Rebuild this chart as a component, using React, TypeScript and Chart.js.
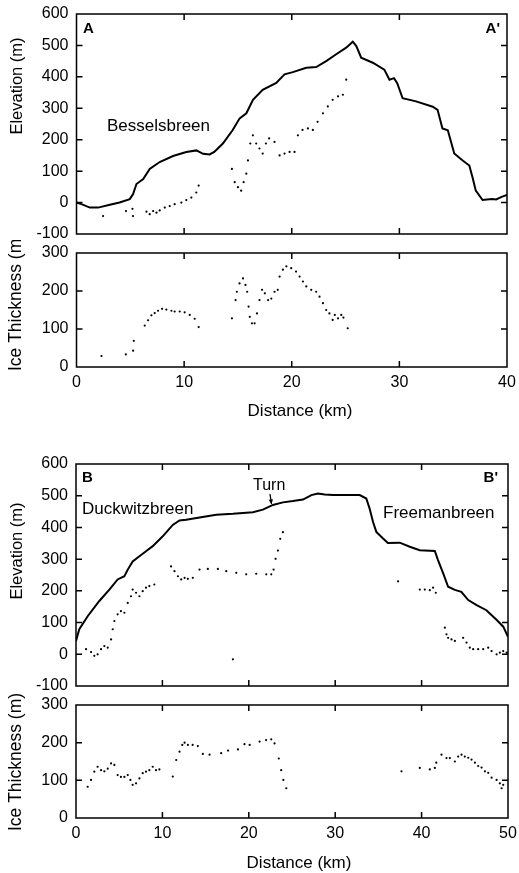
import React, { useEffect, useRef } from "react";
import { Chart, registerables } from "chart.js";

Chart.register(...registerables);

const FONT = "'Liberation Sans', Arial, sans-serif";

// ---------- Profile A-A' (Besselsbreen) ----------
const aSurfDist = [0, 0.46, 1.24, 2.0, 3.1, 4.0, 4.95, 5.26, 5.57, 6.2, 6.8, 7.73, 8.97, 10.2, 11.14, 11.76, 12.37, 12.8, 13.6, 14.5, 15.16, 15.78, 16.4, 17.3, 18.56, 19.33, 20.1, 21.35, 22.27, 23.2, 24.13, 25.06, 25.67, 26.0, 26.45, 27.53, 28.6, 29.08, 29.5, 29.8, 30.3, 31.55, 33.1, 33.55, 34.0, 34.5, 35.1, 35.88, 36.5, 36.8, 37.1, 37.73, 38.6, 39.0, 39.5, 40];
const aSurfElev = [0, -5, -16, -16, -7, 0, 11, 27, 59, 75, 107, 129, 148, 161, 166, 155, 153, 161, 188, 230, 268, 284, 327, 359, 381, 408, 415, 429, 431, 450, 472, 493, 512, 498, 461, 445, 423, 391, 396, 380, 332, 322, 305, 295, 236, 230, 156, 134, 118, 80, 38, 8, 11, 10, 18, 24];

const aBedDist = [2.47, 4.6, 5.2, 5.25, 6.5, 6.8, 7.12, 7.43, 7.73, 8.2, 8.66, 9.12, 9.74, 10.2, 10.67, 11.13, 11.35, 14.44, 14.7, 15.0, 15.3, 15.53, 15.78, 15.93, 16.15, 16.39, 16.7, 17.0, 17.3, 17.6, 17.9, 18.4, 18.87, 19.33, 19.8, 20.26, 20.57, 21.0, 21.5, 21.96, 22.4, 22.9, 23.35, 23.8, 24.3, 24.75, 25.06];
const aBedElev = [-43, -27, -20, -43, -29, -37, -27, -32, -25, -16, -11, -5, 0, 8, 16, 32, 54, 107, 65, 49, 38, 65, 92, 134, 188, 214, 188, 172, 156, 188, 204, 193, 150, 156, 161, 161, 214, 231, 236, 231, 257, 284, 306, 327, 338, 343, 391];

const aThickDist = [2.32, 4.58, 5.26, 5.32, 6.34, 6.65, 6.96, 7.27, 7.58, 7.95, 8.35, 8.82, 9.12, 9.59, 10.05, 10.52, 10.98, 11.35, 14.44, 14.78, 14.9, 15.15, 15.47, 15.7, 15.86, 15.99, 16.1, 16.3, 16.55, 16.77, 17.0, 17.24, 17.5, 17.8, 18.1, 18.4, 18.7, 18.87, 19.18, 19.5, 19.95, 20.4, 20.73, 21.04, 21.35, 21.81, 22.27, 22.58, 22.9, 23.2, 23.5, 23.8, 24.0, 24.3, 24.6, 24.8, 25.2];
const aThick = [29, 33, 43, 69, 109, 123, 136, 142, 148, 153, 151, 148, 146, 146, 144, 137, 127, 105, 128, 176, 198, 220, 233, 216, 198, 159, 132, 115, 115, 141, 176, 203, 194, 176, 180, 198, 203, 238, 256, 265, 260, 251, 238, 225, 212, 203, 198, 185, 168, 150, 141, 124, 137, 128, 137, 130, 102];

// ---------- Profile B-B' (Duckwitzbreen / Freemanbreen) ----------
const bSurfDist = [0, 0.38, 1.35, 2.7, 3.86, 4.82, 5.6, 5.99, 6.56, 7.34, 8.1, 8.88, 10.04, 11.2, 11.98, 12.75, 14.3, 16.23, 18.16, 20.47, 21.63, 22.79, 23.95, 25.1, 26.27, 27.24, 28.0, 28.78, 29.74, 31.3, 32.84, 33.6, 33.99, 34.38, 34.76, 35.54, 36.1, 37.47, 38.63, 39.79, 41.53, 41.9, 42.5, 43.07, 43.85, 44.6, 45.4, 46.37, 47.5, 48.7, 49.45, 50];
const bSurfElev = [42, 79, 120, 168, 204, 236, 246, 267, 293, 309, 325, 341, 372, 408, 422, 424, 431, 440, 443, 448, 456, 471, 479, 483, 488, 502, 507, 504, 502, 502, 502, 491, 459, 417, 386, 365, 351, 352, 339, 328, 326, 297, 255, 213, 203, 197, 171, 155, 139, 108, 87, 55];

const bBedDist = [1.16, 1.74, 2.12, 2.5, 2.9, 3.28, 3.67, 4.06, 4.25, 4.44, 4.82, 5.2, 5.6, 5.99, 6.37, 6.56, 6.95, 7.34, 7.72, 8.1, 8.49, 9.07, 11.0, 11.4, 11.8, 12.18, 12.57, 12.95, 13.52, 14.3, 15.26, 16.42, 17.39, 18.16, 18.55, 19.7, 20.86, 22.02, 22.6, 22.87, 23.1, 23.37, 23.64, 23.95, 37.28, 39.79, 40.37, 40.95, 41.33, 41.64, 42.69, 42.88, 43.07, 43.46, 43.85, 44.81, 45.2, 45.58, 45.97, 46.55, 47.13, 47.71, 48.1, 48.68, 49.06, 49.45, 49.84];
const bBedElev = [16, 7, -5, 0, 16, 26, 21, 47, 79, 105, 126, 136, 131, 162, 183, 204, 194, 183, 199, 210, 215, 220, 277, 262, 246, 236, 241, 238, 241, 267, 269, 269, 262, -16, 257, 252, 254, 252, 252, 267, 301, 327, 364, 385, 230, 204, 204, 202, 210, 194, 84, 63, 52, 47, 42, 52, 37, 21, 16, 16, 16, 21, 10, 0, 5, 10, 5];

const bThickDist = [1.35, 1.74, 2.12, 2.5, 2.9, 3.28, 3.67, 4.06, 4.44, 4.82, 5.2, 5.6, 5.99, 6.3, 6.56, 6.95, 7.34, 7.72, 8.1, 8.49, 8.88, 9.26, 9.65, 11.2, 11.6, 11.98, 12.3, 12.57, 12.95, 13.5, 14.1, 14.68, 15.46, 16.8, 17.6, 18.74, 19.5, 20.1, 21.25, 22.0, 22.6, 22.98, 23.47, 23.75, 24.0, 24.34, 37.67, 39.79, 40.95, 41.53, 41.7, 42.3, 42.88, 43.27, 43.85, 44.23, 44.62, 45.0, 45.4, 45.78, 46.17, 46.55, 46.94, 47.33, 47.71, 48.1, 48.68, 49.06, 49.26, 49.45];
const bThick = [83, 101, 123, 136, 127, 124, 131, 145, 141, 114, 109, 109, 114, 101, 88, 92, 105, 119, 123, 127, 136, 127, 129, 110, 154, 176, 194, 200, 194, 194, 191, 170, 168, 172, 179, 182, 196, 194, 203, 207, 209, 198, 158, 127, 101, 79, 124, 133, 129, 133, 147, 168, 159, 159, 150, 163, 168, 163, 160, 155, 147, 138, 134, 124, 120, 107, 101, 92, 79, 88];

// ---------- axis settings ----------
const elevTicks = { min: -100, max: 600, step: 100 };
const thickTicks = { min: 0, max: 300, step: 100 };
const xA = { min: 0, max: 40, step: 10 };
const xB = { min: 0, max: 50, step: 10 };

const zip = (xs: number[], ys: number[]) => xs.map((x, i) => ({ x, y: ys[i] }));

type Txt = {
  text: string; x: number; y: number; size: number;
  bold?: boolean; align?: CanvasTextAlign; rotate?: boolean;
};
type Arrow = { x1: number; y1: number; x2: number; y2: number };

const framePlugin = {
  id: "frame",
  afterDraw(chart: any, _args: any, opts: any) {
    const { ctx, chartArea: a, scales } = chart;
    ctx.save();
    ctx.strokeStyle = "#000";
    ctx.lineWidth = 1.5;
    ctx.strokeRect(a.left, a.top, a.right - a.left, a.bottom - a.top);
    const tl = 6;
    const xs = scales.x;
    const ys = scales.y;
    ctx.beginPath();
    for (let v = xs.min + opts.xStep; v < xs.max - 1e-6; v += opts.xStep) {
      const p = xs.getPixelForValue(v);
      ctx.moveTo(p, a.top); ctx.lineTo(p, a.top + tl);
      ctx.moveTo(p, a.bottom); ctx.lineTo(p, a.bottom - tl);
    }
    for (let v = ys.min + opts.yStep; v < ys.max - 1e-6; v += opts.yStep) {
      const p = ys.getPixelForValue(v);
      ctx.moveTo(a.left, p); ctx.lineTo(a.left + tl, p);
      ctx.moveTo(a.right, p); ctx.lineTo(a.right - tl, p);
    }
    ctx.stroke();

    ctx.fillStyle = "#000";
    for (const t of (opts.texts || []) as Txt[]) {
      ctx.font = `${t.bold ? "bold " : ""}${t.size}px ${FONT}`;
      const y = t.y - opts.offsetTop;
      if (t.rotate) {
        ctx.save();
        ctx.translate(t.x, y);
        ctx.rotate(-Math.PI / 2);
        ctx.textAlign = "center";
        ctx.textBaseline = "middle";
        ctx.fillText(t.text, 0, 0);
        ctx.restore();
      } else {
        ctx.textAlign = t.align || "left";
        ctx.textBaseline = "alphabetic";
        ctx.fillText(t.text, t.x, y);
      }
    }
    for (const ar of (opts.arrows || []) as Arrow[]) {
      const y1 = ar.y1 - opts.offsetTop;
      const y2 = ar.y2 - opts.offsetTop;
      ctx.lineWidth = 1.3;
      ctx.beginPath();
      ctx.moveTo(ar.x1, y1); ctx.lineTo(ar.x2, y2);
      ctx.stroke();
      const ang = Math.atan2(y2 - y1, ar.x2 - ar.x1);
      const h = 5;
      ctx.beginPath();
      ctx.moveTo(ar.x2, y2);
      ctx.lineTo(ar.x2 - h * Math.cos(ang - 0.45), y2 - h * Math.sin(ang - 0.45));
      ctx.lineTo(ar.x2 - h * Math.cos(ang + 0.45), y2 - h * Math.sin(ang + 0.45));
      ctx.closePath();
      ctx.fill();
    }
    ctx.restore();
  },
};

type PanelSpec = {
  top: number; height: number;
  areaLeft: number; areaRight: number; areaTop: number; areaBottom: number;
  x: { min: number; max: number; step: number };
  y: { min: number; max: number; step: number };
  showX: boolean;
  datasets: any[];
  texts: Txt[];
  arrows?: Arrow[];
};

function lineSet(xs: number[], ys: number[]) {
  return {
    data: zip(xs, ys), showLine: true, borderColor: "#000", borderWidth: 2,
    pointRadius: 0, fill: false, tension: 0,
  };
}
function dotSet(xs: number[], ys: number[]) {
  return {
    data: zip(xs, ys), showLine: false, pointRadius: 1.1, pointBorderWidth: 0,
    pointBackgroundColor: "#000", backgroundColor: "#000", borderColor: "#000",
  };
}

const TICK_FONT = { family: FONT, size: 16 };

function makeConfig(p: PanelSpec): any {
  return {
    type: "scatter",
    data: { datasets: p.datasets },
    plugins: [framePlugin],
    options: {
      responsive: false,
      animation: false,
      events: [],
      layout: {
        padding: {
          left: 0,
          right: 519 - p.areaRight,
          top: p.areaTop,
          bottom: p.showX ? 0 : p.height - p.areaBottom,
        },
      },
      plugins: {
        legend: { display: false },
        tooltip: { enabled: false },
        frame: {
          offsetTop: p.top, xStep: p.x.step, yStep: p.y.step,
          texts: p.texts, arrows: p.arrows || [],
        },
      },
      scales: {
        x: {
          type: "linear",
          display: p.showX,
          min: p.x.min, max: p.x.max,
          grid: { display: false, drawTicks: false },
          border: { display: false },
          ticks: {
            stepSize: p.x.step, color: "#000", padding: 6,
            font: TICK_FONT, maxRotation: 0, autoSkip: false,
          },
          afterFit: (s: any) => {
            if (p.showX) s.height = p.height - p.areaBottom;
            s.paddingLeft = 0; s.paddingRight = 0;
          },
        },
        y: {
          type: "linear",
          min: p.y.min, max: p.y.max,
          grid: { display: false, drawTicks: false },
          border: { display: false },
          ticks: {
            stepSize: p.y.step, color: "#000", padding: 8,
            font: TICK_FONT,
          },
          afterFit: (s: any) => {
            s.width = p.areaLeft;
            s.paddingTop = 0; s.paddingBottom = 0;
          },
        },
      },
    },
  };
}

function Panel({ spec }: { spec: PanelSpec }) {
  const ref = useRef<HTMLCanvasElement>(null);
  useEffect(() => {
    const chart = new Chart(ref.current as HTMLCanvasElement, makeConfig(spec));
    return () => chart.destroy();
  }, []);
  return (
    <canvas
      ref={ref}
      width={519}
      height={spec.height}
      style={{ position: "absolute", left: 0, top: spec.top, width: 519, height: spec.height }}
    />
  );
}

const panels: PanelSpec[] = [
  {
    top: 0, height: 250, areaLeft: 76.5, areaRight: 507, areaTop: 14, areaBottom: 234,
    x: xA, y: elevTicks, showX: false,
    datasets: [lineSet(aSurfDist, aSurfElev), dotSet(aBedDist, aBedElev)],
    texts: [
      { text: "A", x: 83, y: 33, size: 15, bold: true },
      { text: "A'", x: 500, y: 33, size: 15, bold: true, align: "right" },
      { text: "Besselsbreen", x: 107, y: 131, size: 17 },
      { text: "Elevation (m)", x: 17, y: 86, size: 16.5, rotate: true },
    ],
  },
  {
    top: 240, height: 190, areaLeft: 76.5, areaRight: 507, areaTop: 13, areaBottom: 127,
    x: xA, y: thickTicks, showX: true,
    datasets: [dotSet(aThickDist, aThick)],
    texts: [
      { text: "Ice Thickness (m)", x: 16, y: 302, size: 17.5, rotate: true },
      { text: "Distance (km)", x: 300, y: 416, size: 17, align: "center" },
    ],
  },
  {
    top: 440, height: 252, areaLeft: 76, areaRight: 508, areaTop: 24, areaBottom: 246,
    x: xB, y: elevTicks, showX: false,
    datasets: [lineSet(bSurfDist, bSurfElev), dotSet(bBedDist, bBedElev)],
    texts: [
      { text: "B", x: 82, y: 482, size: 15, bold: true },
      { text: "B'", x: 498, y: 482, size: 15, bold: true, align: "right" },
      { text: "Duckwitzbreen", x: 82, y: 514, size: 17 },
      { text: "Turn", x: 253, y: 490, size: 16 },
      { text: "Freemanbreen", x: 383, y: 518, size: 17 },
      { text: "Elevation (m)", x: 17, y: 551, size: 16.5, rotate: true },
    ],
    arrows: [{ x1: 270, y1: 494, x2: 271.5, y2: 504 }],
  },
  {
    top: 690, height: 183, areaLeft: 76, areaRight: 508, areaTop: 15, areaBottom: 128,
    x: xB, y: thickTicks, showX: true,
    datasets: [dotSet(bThickDist, bThick)],
    texts: [
      { text: "Ice Thickness (m)", x: 16, y: 762, size: 17.5, rotate: true },
      { text: "Distance (km)", x: 299, y: 868, size: 17, align: "center" },
    ],
  },
];

export default function App() {
  return (
    <div style={{ position: "fixed", left: 0, top: 0, width: 519, height: 873, background: "#fff" }}>
      {panels.map((p, i) => (
        <Panel key={i} spec={p} />
      ))}
    </div>
  );
}
